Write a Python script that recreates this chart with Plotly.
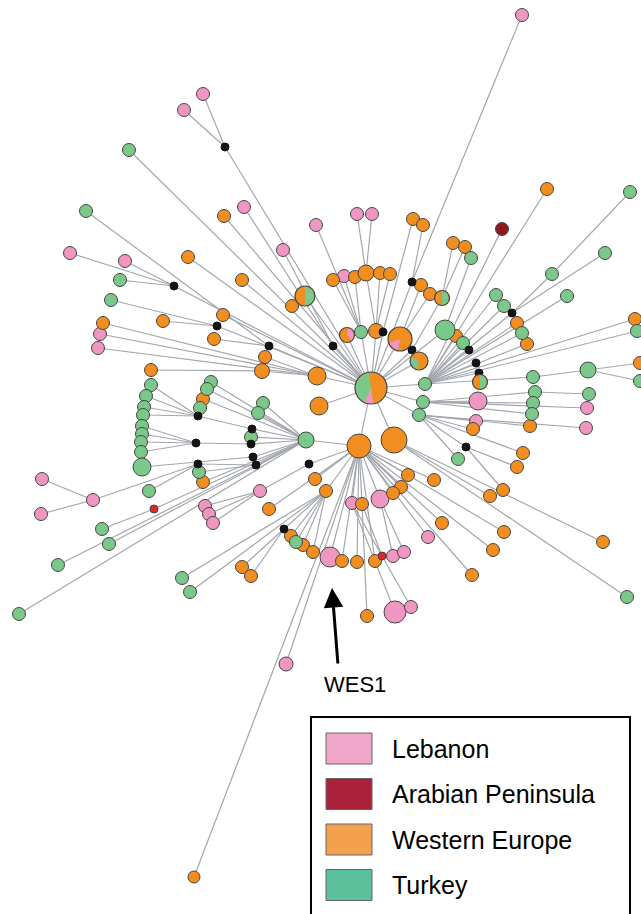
import math
import plotly.graph_objects as go

# ---------------- data (pixel-space layout) ----------------
node_name = ["C","BP","O1","O2","G1","G2","G3","G4","P1","P2","P3","P4","P5",
 "n1","n2","m1","n3","n4","n5","n6","n7","n8","n9","n10","n11","m2","n12","n13","n14","n15","n16","n17","m3",
 "n18","n19","n20","m4","n21","n22","n23","n24","n25","m5","n26","n27","m6","n28",
 "n29","n30","n31","n32","n33","n34","n35","n36","n37","n38","m7","n39","n40","n41","n42","n43","n44","m8",
 "n45","n46","n47","n48","n49","n50","n51","n52","m9","n53","n54","n55","n56","n57","n58","m10","n59","n60","m11","m12",
 "n61","n62","n63","n64","n65","n66","n67","n68","n69","n70","n71","n72","n73","n74","m13","n75","n76","n77","n78","n79","n80","n81",
 "n82","n83","n84","n85","n86","n87","n88","n89","n90","n91","n92","n93","n94","n95","n96","n97","n98","n99","r1","n100","n101",
 "n102","n103","n104","n105","n106",
 "m14","n107","n108","n109","n110","n111","n112","n113","n114","n115","n116","m15",
 "n117","n118","m16","n119","m17","m18","m19","n120","n121","n122","n123","m20",
 "n124","n125","n126","n127","n128","n129","n130","n131","n132","m21","m22","n133","n134",
 "n135","n136","n137","n138","r2","n139","n140","n141","n142","n143","n144","n145"]
node_x = [371,400,359,394,306,425,423,419,305,347,419,442,480,
 203,184,225,129,86,244,224,70,125,188,283,120,174,242,316,111,292,223,163,217,
 103,100,214,269,98,265,262,151,317,333,361,376,383,319,
 357,372,413,423,333,344,355,366,380,390,412,421,430,522,453,465,471,412,
 547,630,502,605,552,496,567,504,512,517,522,527,445,456,463,469,635,637,476,479,
 533,588,640,640,535,589,478,533,587,532,476,473,530,586,466,523,458,517,503,490,603,627,
 408,434,401,393,380,352,362,315,326,442,504,428,493,472,330,342,357,375,382,393,404,
 367,395,411,286,194,
 284,291,296,303,313,242,251,182,190,269,260,309,
 263,258,252,251,251,253,256,211,207,203,200,198,
 151,146,144,143,142,142,141,141,142,196,198,199,203,
 42,93,41,149,154,205,209,213,102,109,58,19]
node_y = [388,339,446,440,440,384,402,415,296,335,361,298,382,
 94,110,147,150,211,207,216,253,261,257,250,280,286,280,225,300,306,315,321,326,
 323,334,339,346,348,357,371,370,376,346,332,331,332,406,
 214,214,219,225,280,276,277,273,273,274,282,285,294,15,243,247,258,350,
 189,192,229,253,274,295,296,306,313,323,333,344,330,336,343,350,319,331,363,373,
 377,370,363,381,392,394,401,403,408,414,421,429,426,428,447,453,459,467,490,496,542,597,
 475,480,487,493,499,503,504,479,491,523,532,537,550,575,557,561,562,561,556,556,552,
 616,612,607,664,877,
 529,536,542,545,552,567,576,578,592,509,491,464,
 403,413,429,437,444,457,465,382,389,399,408,416,
 385,396,407,415,426,434,442,452,467,443,464,472,482,
 479,500,514,491,509,506,514,523,529,544,565,614]
# region key: L Lebanon, A Arabian Peninsula, W Western Europe, T Turkey, M median vector, R red sample, P pie
node_region = ["P","P","W","W","T","T","T","T","P","P","P","P","P",
 "L","L","M","T","T","L","W","L","L","W","L","T","M","W","L","T","W","W","W","M",
 "W","L","W","M","L","W","W","W","W","M","T","W","M","W",
 "L","L","W","W","W","L","W","W","W","W","M","W","W","L","W","W","T","M",
 "W","T","A","T","T","T","T","T","M","W","T","W","T","W","T","M","W","T","M","M",
 "T","T","W","T","T","T","L","T","L","T","L","W","W","L","M","W","T","W","W","W","W","T",
 "W","W","W","W","L","L","W","W","W","W","W","L","W","W","L","W","W","W","R","L","L",
 "W","L","L","L","W",
 "M","W","T","W","W","W","W","T","T","W","L","M",
 "T","T","M","T","M","M","M","T","T","W","T","M",
 "T","T","T","T","T","T","T","T","T","M","M","T","W",
 "L","L","L","T","R","L","L","L","T","T","T","T"]
node_size = {"C":32,"BP":24,"O1":24,"O2":26,"G1":16,"P1":20,"P2":15,"P3":18,"P4":15,"P5":15,
             "n56":20,"n67":18,"n86":18,"n132":18,"n62":16,"n36":16,"n23":15,"n27":15,
             "n25":18,"n28":18,"n96":20,"n103":22,"n105":14,"n106":12}
default_size = 13
median_size = 8

# pie nodes: base region and overlay wedges (region, start deg, end deg; clockwise from top)
pie_name = ["C", "C", "BP", "P1", "P2", "P3", "P4", "P5"]
pie_base = {"C": "W", "BP": "W", "P1": "W", "P2": "W", "P3": "W", "P4": "W", "P5": "W"}
pie_wedge_region = ["L", "T", "L", "T", "L", "T", "T", "T"]
pie_wedge_start = [170, 205, 190, 0, 10, 190, 0, 0]
pie_wedge_end = [205, 352, 250, 180, 140, 300, 180, 180]

edges = [("n1","m1"),("n2","m1"),("m1","C"),("n3","C"),("n4","m4"),("n5","m5"),("n6","C"),
 ("n7","m2"),("n8","m2"),("n11","m2"),("m2","C"),("n9","C"),("n10","m5"),("n12","C"),("n13","n26"),
 ("n14","m3"),("n17","m3"),("m3","C"),("n15","P1"),("n16","C"),("n18","n25"),("n19","n25"),("n21","n25"),
 ("n20","m4"),("m4","C"),("n22","n25"),("n24","n23"),("n23","n25"),("n25","C"),("m5","C"),("n26","C"),
 ("n27","C"),("n36","n27"),("n37","n27"),("n38","n27"),("n29","n36"),("n30","n36"),
 ("n33","n26"),("n34","n26"),("n35","n26"),("n31","m6"),("m6","C"),("n32","m7"),("n41","m7"),("m7","C"),
 ("n39","BP"),("n40","BP"),("n28","C"),("P1","C"),("P2","C"),("BP","C"),("P3","C"),
 ("m8","C"),("P4","m8"),("n42","P4"),("n43","P4"),("n44","n56"),("n56","C"),
 ("n45","G2"),("n47","G2"),("n46","n49"),("n49","m9"),("n48","m9"),("m9","G2"),
 ("n50","G2"),("n51","G2"),("n52","G2"),("n53","G2"),("n54","G2"),("n55","G2"),
 ("n57","G2"),("n58","G2"),("m10","G2"),("n59","G2"),("n60","G2"),("m11","G2"),("m12","G2"),("P5","m12"),
 ("n61","G2"),("n62","n61"),("n63","n62"),("n64","n62"),("G2","C"),("G3","C"),("G4","C"),
 ("n65","G3"),("n66","n65"),("n67","G3"),("n68","G3"),("n69","G3"),("n70","G3"),
 ("n71","G4"),("n72","G4"),("n73","G4"),("n74","G4"),("m13","G4"),("n75","G4"),("n76","G4"),
 ("m13","n77"),("m13","n78"),("O2","C"),("n79","O2"),("n80","O2"),("n81","O2"),("O1","C"),
 ("n82","O1"),("n83","O1"),("n84","O1"),("n85","O1"),("n86","O1"),("n87","O1"),("n88","O1"),("n89","O1"),
 ("n90","O1"),("n91","O1"),("n92","O1"),("n93","O1"),("n94","O1"),("n95","O1"),("n96","O1"),("n97","O1"),
 ("n98","O1"),("n99","O1"),("n105","O1"),("n106","O1"),("m15","O1"),("n115","O1"),
 ("n100","n86"),("n101","n86"),("r1","n88"),("n102","n88"),("n103","n87"),("n104","n87"),
 ("m14","n90"),("n107","n90"),("n108","n90"),("n109","n90"),("n110","n90"),("n113","n90"),("n114","n90"),
 ("n111","m14"),("n112","m14"),("n116","m15"),("n139","n116"),("n140","n116"),("n141","n116"),
 ("G1","O1"),("n117","G1"),("n118","G1"),("m16","G1"),("n119","G1"),("m17","G1"),("m18","G1"),("m19","G1"),
 ("n120","G1"),("n121","G1"),("n122","G1"),("m16","m20"),("n123","m20"),
 ("n124","m20"),("n125","m20"),("n126","m20"),("n127","m20"),("m17","m21"),
 ("n128","m21"),("n129","m21"),("n130","m21"),("n131","m21"),("n132","m18"),
 ("m19","m22"),("m22","n136"),("n135","n136"),("n137","n136"),("n133","m19"),("n134","G1"),("n138","m22"),
 ("r2","G1"),("n142","r2"),("n143","G1"),("n144","G1"),("n145","G1")]

legend_labels = ["Lebanon", "Arabian Peninsula", "Western Europe", "Turkey"]
legend_colors = ["#EFA6C9", "#A92239", "#F4A14E", "#5ABF9A"]

# ---------------- styling ----------------
fill = {"L": "#F096C2", "A": "#8E1A1E", "W": "#F28E1F", "T": "#7BC98A", "M": "#141414", "R": "#E3262B"}
outline = "#454545"

idx = {n: i for i, n in enumerate(node_name)}

fig = go.Figure()

# edges
ex, ey = [], []
for a, b in edges:
    ex += [node_x[idx[a]], node_x[idx[b]], None]
    ey += [node_y[idx[a]], node_y[idx[b]], None]
fig.add_trace(go.Scatter(x=ex, y=ey, mode="lines", line=dict(color="#A3A7AD", width=1.2),
                         hoverinfo="skip", showlegend=False))

def size_of(n, reg):
    if reg == "M":
        return median_size
    if reg == "R":
        return 8
    return node_size.get(n, default_size)

# plain nodes by region
for reg in ["L", "A", "W", "T", "R", "M"]:
    xs, ys, ss = [], [], []
    for i, n in enumerate(node_name):
        if node_region[i] == reg:
            xs.append(node_x[i]); ys.append(node_y[i]); ss.append(size_of(n, reg))
    fig.add_trace(go.Scatter(x=xs, y=ys, mode="markers", hoverinfo="skip", showlegend=False,
                             marker=dict(size=ss, color=fill[reg], opacity=1,
                                         line=dict(color=outline if reg != "M" else "#141414", width=1))))

# pie nodes: base disc, wedges, outline
pies = list(dict.fromkeys(pie_name))
fig.add_trace(go.Scatter(x=[node_x[idx[p]] for p in pies], y=[node_y[idx[p]] for p in pies],
                         mode="markers", hoverinfo="skip", showlegend=False,
                         marker=dict(size=[node_size[p] for p in pies], opacity=1,
                                     color=[fill[pie_base[p]] for p in pies],
                                     line=dict(width=0))))
for reg in ["L", "T"]:
    wx, wy = [], []
    for p, r_, a0, a1 in zip(pie_name, pie_wedge_region, pie_wedge_start, pie_wedge_end):
        if r_ != reg:
            continue
        cx, cy = node_x[idx[p]], node_y[idx[p]]
        rad = node_size[p] / 2.0 - 0.5
        wx.append(cx); wy.append(cy)
        steps = 30
        for k in range(steps + 1):
            t = math.radians(a0 + (a1 - a0) * k / steps)
            wx.append(cx + rad * math.sin(t)); wy.append(cy - rad * math.cos(t))
        wx += [cx, None]; wy += [cy, None]
    fig.add_trace(go.Scatter(x=wx, y=wy, mode="lines", fill="toself", fillcolor=fill[reg],
                             line=dict(width=0, color=fill[reg]), hoverinfo="skip", showlegend=False))
fig.add_trace(go.Scatter(x=[node_x[idx[p]] for p in pies], y=[node_y[idx[p]] for p in pies],
                         mode="markers", hoverinfo="skip", showlegend=False,
                         marker=dict(size=[node_size[p] for p in pies], color="rgba(0,0,0,0)", opacity=1,
                                     line=dict(color=outline, width=1.2))))

# WES1 arrow + label
fig.add_annotation(x=node_x[idx["n96"]] + 2, y=node_y[idx["n96"]] + 31, ax=node_x[idx["n96"]] + 8,
                   ay=node_y[idx["n96"]] + 108, xref="x", yref="y", axref="x", ayref="y",
                   showarrow=True, arrowhead=2, arrowsize=1.3, arrowwidth=3, arrowcolor="black", text="")
fig.add_annotation(x=355, y=684, xref="x", yref="y", text="WES1", showarrow=False,
                   font=dict(size=22, color="black", family="Arial, Liberation Sans"))

# legend box
fig.add_shape(type="rect", x0=311, y0=717, x1=630, y1=920, line=dict(color="black", width=2),
              fillcolor="white", layer="above")
for i, (lab, col) in enumerate(zip(legend_labels, legend_colors)):
    y0 = 733 + i * 45.5
    fig.add_shape(type="rect", x0=326, x1=372, y0=y0, y1=y0 + 31, fillcolor=col,
                  line=dict(color="#666666", width=1), layer="above")
    fig.add_annotation(x=390, y=y0 + 15.5, xref="x", yref="y", text=lab, showarrow=False,
                       xanchor="left", yanchor="middle",
                       font=dict(size=25, color="black", family="Arial, Liberation Sans"))

fig.update_layout(width=641, height=914, margin=dict(l=0, r=0, t=0, b=0),
                  paper_bgcolor="white", plot_bgcolor="white", showlegend=False,
                  xaxis=dict(range=[0, 641], visible=False, fixedrange=True),
                  yaxis=dict(range=[914, 0], visible=False, fixedrange=True))
fig.write_html("out.html", config={"displayModeBar": False, "staticPlot": True},
               post_script="document.body.style.margin='0px';")
